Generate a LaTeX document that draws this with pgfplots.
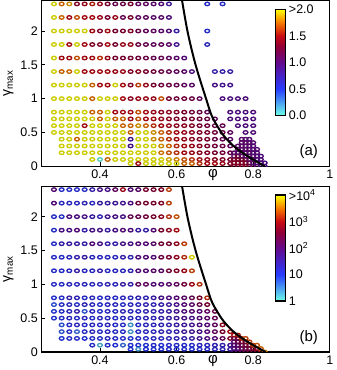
\documentclass[border=0pt]{standalone}
\usepackage{fontspec}
\setmainfont{Liberation Sans}
\usepackage{pgfplots}
\pgfplotsset{compat=1.18}

\pgfplotsset{
  colormap={fire}{rgb255(0cm)=(110,255,230); rgb255(25cm)=(40,60,255); rgb255(50cm)=(100,10,140);
    rgb255(65cm)=(145,0,55); rgb255(75cm)=(200,10,20); rgb255(87cm)=(245,115,0); rgb255(100cm)=(255,255,0)},
  panel/.style={
    scale only axis, width=289pt, height=166pt,
    xmin=0.247, xmax=1, ymin=0, ymax=2.45,
    xtick={0.4,0.6,0.8,1}, xticklabels={0.4,0.6,0.8,1},
    ytick={0,0.5,1,1.5,2}, yticklabels={0,0.5,1,1.5,2},
    tick pos=left, major tick length=4pt,
    tick style={black, line width=0.8pt},
    axis line style={line width=1.1pt},
    tick label style={font=\fontsize{12.5}{12.5}\selectfont},
    xlabel={φ},
    xlabel style={at={(axis description cs:0.595,0)}, anchor=north, font=\fontsize{15}{15}\selectfont},
    ylabel={γ\textsubscript{max}},
    ylabel style={font=\fontsize{14}{14}\selectfont},
    colormap name=fire,
    clip marker paths=true,
    colorbar,
  },
  cbar/.style={
    at={(parent axis.north west)}, anchor=north west, xshift=226pt, yshift=-9pt,
    scale only axis, width=10pt, height=106pt,
    major tick length=0pt,
    axis line style={line width=1.6pt},
    yticklabel style={font=\fontsize{12.5}{12.5}\selectfont},
  },
  dots/.style={scatter, only marks, mark=o, mark size=1.75pt, point meta=explicit,
    mark options={line width=1.35pt, xscale=1.35}},
}

\begin{document}
\begin{tikzpicture}
% ---------------- panel (a) ----------------
\begin{axis}[panel, point meta min=0, point meta max=2,
  colorbar style={cbar, ytick={0,0.5,1,1.5,2}, yticklabels={0.0,0.5,1.0,1.5,>2.0}}]
\addplot[dots] coordinates {
(0.28,2.4)[2] (0.30,2.4)[1.75] (0.32,2.4)[1.85] (0.34,2.4)[1.35] (0.36,2.4)[1.45] (0.38,2.4)[1.55]
(0.40,2.4)[1.45] (0.42,2.4)[1.3] (0.44,2.4)[1.15] (0.46,2.4)[1.2] (0.48,2.4)[1.3] (0.50,2.4)[1.1]
(0.52,2.4)[1.1] (0.54,2.4)[1.05] (0.56,2.4)[1.0] (0.58,2.4)[0.8] (0.68,2.4)[0.55] (0.72,2.4)[0.55]
(0.28,2.2)[2] (0.30,2.2)[1.75] (0.32,2.2)[1.5] (0.34,2.2)[1.7] (0.36,2.2)[1.5] (0.38,2.2)[1.5]
(0.40,2.2)[1.45] (0.42,2.2)[1.3] (0.44,2.2)[1.45] (0.46,2.2)[1.15] (0.48,2.2)[1.3] (0.50,2.2)[1.1]
(0.52,2.2)[1.1] (0.54,2.2)[1.05] (0.56,2.2)[1.05] (0.58,2.2)[0.95]
(0.28,2)[2] (0.30,2)[2] (0.32,2)[2] (0.34,2)[2] (0.36,2)[2] (0.38,2)[1.5] (0.40,2)[1.35] (0.42,2)[1.5]
(0.44,2)[1.3] (0.46,2)[1.3] (0.48,2)[1.35] (0.50,2)[1.2] (0.52,2)[1.1] (0.54,2)[1.1] (0.56,2)[1.05]
(0.58,2)[1.0] (0.60,2)[0.75] (0.68,2)[0.55]
(0.28,1.8)[2] (0.30,1.8)[2] (0.32,1.8)[1.5] (0.34,1.8)[2] (0.36,1.8)[1.5] (0.38,1.8)[1.35] (0.40,1.8)[1.35]
(0.42,1.8)[1.5] (0.44,1.8)[1.3] (0.46,1.8)[1.45] (0.48,1.8)[1.45] (0.50,1.8)[1.2] (0.52,1.8)[1.15]
(0.54,1.8)[1.1] (0.56,1.8)[1.1] (0.58,1.8)[1.05] (0.60,1.8)[0.85] (0.68,1.8)[0.6]
(0.28,1.6)[2] (0.30,1.6)[1.5] (0.32,1.6)[1.5] (0.34,1.6)[1.7] (0.36,1.6)[1.5] (0.38,1.6)[1.5] (0.40,1.6)[1.6]
(0.42,1.6)[1.45] (0.44,1.6)[1.3] (0.46,1.6)[1.3] (0.48,1.6)[1.3] (0.50,1.6)[1.25] (0.52,1.6)[1.2]
(0.54,1.6)[1.15] (0.56,1.6)[1.15] (0.58,1.6)[1.1] (0.60,1.6)[1.05] (0.62,1.6)[1.0]
(0.28,1.4)[2] (0.30,1.4)[1.75] (0.32,1.4)[1.75] (0.34,1.4)[2] (0.36,1.4)[1.5] (0.38,1.4)[1.5] (0.40,1.4)[1.5]
(0.42,1.4)[1.5] (0.44,1.4)[1.45] (0.46,1.4)[1.45] (0.48,1.4)[1.35] (0.50,1.4)[1.4] (0.52,1.4)[1.3]
(0.54,1.4)[1.25] (0.56,1.4)[1.2] (0.58,1.4)[1.15] (0.60,1.4)[1.1] (0.62,1.4)[1.05] (0.64,1.4)[0.95]
(0.70,1.4)[0.7] (0.72,1.4)[0.7] (0.74,1.4)[0.75]
(0.28,1.2)[2] (0.30,1.2)[2] (0.32,1.2)[2] (0.34,1.2)[2] (0.36,1.2)[2] (0.38,1.2)[1.75] (0.40,1.2)[1.5]
(0.42,1.2)[1.5] (0.44,1.2)[2] (0.46,1.2)[1.5] (0.48,1.2)[1.35] (0.50,1.2)[1.65] (0.52,1.2)[1.45]
(0.54,1.2)[1.3] (0.56,1.2)[1.25] (0.58,1.2)[1.2] (0.60,1.2)[1.15] (0.62,1.2)[1.1] (0.64,1.2)[1.05]
(0.70,1.2)[0.9] (0.72,1.2)[0.85] (0.74,1.2)[0.85]
(0.28,1)[2] (0.30,1)[2] (0.32,1)[2] (0.34,1)[2] (0.36,1)[2] (0.38,1)[1.75] (0.40,1)[2] (0.42,1)[2]
(0.44,1)[2] (0.46,1)[1.5] (0.48,1)[1.4] (0.50,1)[1.45] (0.52,1)[1.45] (0.54,1)[1.45] (0.56,1)[1.7]
(0.58,1)[1.3] (0.60,1)[1.25] (0.62,1)[1.25] (0.64,1)[1.2] (0.66,1)[1.1]
(0.72,1)[0.95] (0.74,1)[0.95] (0.76,1)[0.95] (0.78,1)[0.95]
(0.28,0.8)[2] (0.30,0.8)[2] (0.32,0.8)[2] (0.34,0.8)[2] (0.36,0.8)[2] (0.38,0.8)[1.75] (0.40,0.8)[1.75]
(0.42,0.8)[2] (0.44,0.8)[1.5] (0.46,0.8)[1.5] (0.48,0.8)[1.5] (0.50,0.8)[1.7] (0.52,0.8)[1.5]
(0.54,0.8)[1.45] (0.56,0.8)[1.4] (0.58,0.8)[1.4] (0.60,0.8)[1.35] (0.62,0.8)[1.3] (0.64,0.8)[1.25]
(0.66,0.8)[1.2] (0.68,0.8)[1.1] (0.74,0.8)[0.95] (0.76,0.8)[0.95] (0.78,0.8)[0.95] (0.80,0.8)[0.95]
(0.28,0.7)[2] (0.30,0.7)[2] (0.32,0.7)[2] (0.34,0.7)[2] (0.36,0.7)[2] (0.38,0.7)[2] (0.40,0.7)[1.75]
(0.42,0.7)[2] (0.44,0.7)[1.75] (0.46,0.7)[1.75] (0.48,0.7)[1.5] (0.50,0.7)[1.7] (0.52,0.7)[1.5]
(0.54,0.7)[1.5] (0.56,0.7)[1.45] (0.58,0.7)[1.4] (0.60,0.7)[1.35] (0.62,0.7)[1.3] (0.64,0.7)[1.3]
(0.66,0.7)[1.25] (0.68,0.7)[1.2] (0.70,0.7)[1.1] (0.74,0.7)[0.95] (0.76,0.7)[0.95] (0.78,0.7)[0.95] (0.80,0.7)[0.95]
(0.28,0.6)[2] (0.30,0.6)[2] (0.32,0.6)[2] (0.34,0.6)[2] (0.36,0.6)[1.5] (0.38,0.6)[2] (0.40,0.6)[2]
(0.42,0.6)[2] (0.44,0.6)[2] (0.46,0.6)[1.75] (0.48,0.6)[1.75] (0.50,0.6)[1.85] (0.52,0.6)[1.75]
(0.54,0.6)[1.6] (0.56,0.6)[1.5] (0.58,0.6)[1.45] (0.60,0.6)[1.4] (0.62,0.6)[1.4] (0.64,0.6)[1.35]
(0.66,0.6)[1.3] (0.68,0.6)[1.25] (0.70,0.6)[1.2] (0.72,0.6)[1.15] (0.76,0.6)[0.95] (0.78,0.6)[0.95] (0.80,0.6)[0.95]
(0.28,0.5)[2] (0.30,0.5)[2] (0.32,0.5)[2] (0.34,0.5)[2] (0.36,0.5)[2] (0.38,0.5)[2] (0.40,0.5)[2]
(0.42,0.5)[2] (0.44,0.5)[2] (0.46,0.5)[2] (0.48,0.5)[1.75] (0.50,0.5)[2] (0.52,0.5)[2] (0.54,0.5)[1.85]
(0.56,0.5)[1.75] (0.58,0.5)[1.6] (0.60,0.5)[1.5] (0.62,0.5)[1.45] (0.64,0.5)[1.4] (0.66,0.5)[1.35]
(0.68,0.5)[1.3] (0.70,0.5)[1.25] (0.72,0.5)[1.2] (0.74,0.5)[1.1] (0.78,0.5)[1.0] (0.80,0.5)[1.0]
(0.30,0.4)[2] (0.32,0.4)[2] (0.34,0.4)[1.75] (0.36,0.4)[2] (0.38,0.4)[2] (0.40,0.4)[2] (0.42,0.4)[2]
(0.44,0.4)[2] (0.46,0.4)[2] (0.48,0.4)[0.85] (0.50,0.4)[2] (0.52,0.4)[2] (0.54,0.4)[1.85] (0.56,0.4)[1.75]
(0.58,0.4)[1.6] (0.60,0.4)[1.5] (0.62,0.4)[1.45] (0.64,0.4)[1.4] (0.66,0.4)[1.35] (0.68,0.4)[1.3]
(0.70,0.4)[1.2] (0.72,0.4)[1.15] (0.74,0.4)[1.05]
(0.30,0.3)[2] (0.32,0.3)[2] (0.34,0.3)[2] (0.36,0.3)[2] (0.38,0.3)[2] (0.40,0.3)[2] (0.42,0.3)[2]
(0.44,0.3)[2] (0.46,0.3)[2] (0.48,0.3)[0.9] (0.50,0.3)[2] (0.52,0.3)[2] (0.54,0.3)[2] (0.56,0.3)[1.85]
(0.58,0.3)[1.75] (0.60,0.3)[1.6] (0.62,0.3)[1.5] (0.64,0.3)[1.45] (0.66,0.3)[1.4] (0.68,0.3)[1.3]
(0.70,0.3)[1.25] (0.72,0.3)[1.2] (0.74,0.3)[1.1]
(0.30,0.2)[2] (0.32,0.2)[2] (0.34,0.2)[2] (0.36,0.2)[2] (0.38,0.2)[2] (0.40,0.2)[2] (0.42,0.2)[2]
(0.44,0.2)[2] (0.46,0.2)[2] (0.48,0.2)[2] (0.50,0.2)[2] (0.52,0.2)[2] (0.54,0.2)[2] (0.56,0.2)[1.8]
(0.58,0.2)[1.7] (0.60,0.2)[1.6] (0.62,0.2)[1.5] (0.64,0.2)[1.45] (0.66,0.2)[1.4] (0.68,0.2)[1.35]
(0.70,0.2)[1.3] (0.72,0.2)[1.25] (0.74,0.2)[1.2] (0.76,0.2)[1.1]
(0.38,0.1)[2] (0.40,0.1)[0] (0.42,0.1)[1.75] (0.44,0.1)[2] (0.46,0.1)[2] (0.48,0.1)[2] (0.50,0.1)[2]
(0.52,0.1)[2] (0.54,0.1)[2] (0.56,0.1)[2] (0.58,0.1)[1.9] (0.60,0.1)[1.8] (0.62,0.1)[1.7] (0.64,0.1)[1.6]
(0.66,0.1)[1.5] (0.68,0.1)[1.45] (0.70,0.1)[1.4] (0.72,0.1)[1.35] (0.74,0.1)[1.3] (0.76,0.1)[1.2]
(0.48,0.04)[2] (0.50,0.04)[1.5] (0.52,0.04)[2] (0.54,0.04)[2] (0.56,0.04)[2] (0.58,0.04)[2] (0.60,0.04)[2]
(0.62,0.04)[1.75] (0.64,0.04)[1.75] (0.66,0.04)[1.6] (0.68,0.04)[1.5] (0.70,0.04)[1.5] (0.72,0.04)[1.45]
(0.74,0.04)[1.35]
% dense cluster near the jamming point
(0.75,0)[1.35] (0.75,0.05)[1.35] (0.75,0.1)[1.35] (0.75,0.15)[1.1] (0.75,0.2)[1.05]
(0.76,0)[1.35] (0.76,0.05)[1.35] (0.76,0.1)[1.35] (0.76,0.15)[1.3] (0.76,0.2)[1.05] (0.76,0.25)[1.05] (0.76,0.3)[1.05]
(0.77,0)[1.35] (0.77,0.05)[1.35] (0.77,0.1)[1.3] (0.77,0.15)[1.1] (0.77,0.2)[1.05] (0.77,0.25)[1.05]
(0.77,0.3)[1.05] (0.77,0.35)[1.05] (0.77,0.4)[1.05]
(0.78,0)[1.35] (0.78,0.05)[1.35] (0.78,0.1)[1.3] (0.78,0.15)[1.05] (0.78,0.2)[1.05] (0.78,0.25)[1.05]
(0.78,0.3)[1.05] (0.78,0.35)[1.05] (0.78,0.4)[1.05]
(0.79,0)[1.3] (0.79,0.05)[1.2] (0.79,0.1)[1.1] (0.79,0.15)[1.05] (0.79,0.2)[1.05] (0.79,0.25)[1.05]
(0.79,0.3)[1.05] (0.79,0.35)[1.05] (0.79,0.4)[1.0]
(0.80,0)[1.05] (0.80,0.05)[1.05] (0.80,0.1)[1.05] (0.80,0.15)[1.05] (0.80,0.2)[1.0] (0.80,0.25)[1.0]
(0.80,0.3)[1.0] (0.80,0.35)[1.0]
(0.81,0)[1.0] (0.81,0.05)[1.0] (0.81,0.1)[1.0] (0.81,0.15)[1.0] (0.81,0.2)[1.0] (0.81,0.25)[1.0]
(0.82,0)[0.95] (0.82,0.05)[0.95] (0.82,0.1)[0.95] (0.82,0.15)[0.95]
(0.83,0)[0.95] (0.83,0.05)[0.95]
};
\addplot[black, line width=2pt, smooth] coordinates {
(0.614,2.46) (0.629,1.98) (0.650,1.49) (0.678,0.98) (0.693,0.73) (0.718,0.49)
(0.741,0.34) (0.762,0.24) (0.788,0.14) (0.830,0)};
\node[font=\fontsize{15}{15}\selectfont] at (rel axis cs:0.927,0.087) {(a)};
\end{axis}

% ---------------- panel (b) ----------------
\begin{axis}[panel, at={(0,-186pt)}, point meta min=0, point meta max=4,
  colorbar style={cbar, ytick={0,1,2,3,4},
    yticklabels={1,10,10\textsuperscript{2},10\textsuperscript{3},>10\textsuperscript{4}}}]
\addplot[dots] coordinates {
(0.28,2.4)[2.0] (0.30,2.4)[1.1] (0.32,2.4)[1.1] (0.34,2.4)[1.1] (0.36,2.4)[1.1] (0.38,2.4)[1.4]
(0.40,2.4)[1.8] (0.42,2.4)[1.8] (0.44,2.4)[2.2] (0.46,2.4)[2.9] (0.48,2.4)[2.0] (0.50,2.4)[2.1]
(0.52,2.4)[2.6] (0.54,2.4)[2.6] (0.56,2.4)[2.7] (0.58,2.4)[3.3]
(0.28,2.2)[2.0] (0.30,2.2)[1.2] (0.32,2.2)[1.2] (0.34,2.2)[1.2] (0.36,2.2)[1.3] (0.38,2.2)[1.2]
(0.40,2.2)[1.5] (0.42,2.2)[1.5] (0.44,2.2)[1.6] (0.46,2.2)[1.7] (0.48,2.2)[1.9] (0.50,2.2)[2.5]
(0.52,2.2)[2.6] (0.54,2.2)[2.6] (0.56,2.2)[2.7] (0.58,2.2)[3.3]
(0.28,2)[1.1] (0.30,2)[1.1] (0.32,2)[1.9] (0.34,2)[1.9] (0.36,2)[1.8] (0.38,2)[1.5] (0.40,2)[1.3]
(0.42,2)[1.7] (0.44,2)[1.8] (0.46,2)[1.8] (0.48,2)[2.3] (0.50,2)[2.3] (0.52,2)[2.5] (0.54,2)[2.6]
(0.56,2)[2.8] (0.58,2)[3.2] (0.60,2)[3.4]
(0.28,1.8)[1.1] (0.30,1.8)[1.8] (0.32,1.8)[1.8] (0.34,1.8)[2.0] (0.36,1.8)[1.4] (0.38,1.8)[1.8]
(0.40,1.8)[1.8] (0.42,1.8)[1.5] (0.44,1.8)[1.8] (0.46,1.8)[2.0] (0.48,1.8)[1.9] (0.50,1.8)[1.5]
(0.52,1.8)[1.4] (0.54,1.8)[2.0] (0.56,1.8)[2.6] (0.58,1.8)[2.8] (0.60,1.8)[3.0]
(0.28,1.6)[1.1] (0.30,1.6)[1.4] (0.32,1.6)[1.5] (0.34,1.6)[1.5] (0.36,1.6)[1.4] (0.38,1.6)[2.0]
(0.40,1.6)[1.8] (0.42,1.6)[1.4] (0.44,1.6)[1.4] (0.46,1.6)[1.8] (0.48,1.6)[1.8] (0.50,1.6)[2.0]
(0.52,1.6)[2.0] (0.54,1.6)[2.1] (0.56,1.6)[2.5] (0.58,1.6)[2.6] (0.60,1.6)[2.8] (0.62,1.6)[3.3]
(0.28,1.4)[1.1] (0.30,1.4)[1.1] (0.32,1.4)[1.2] (0.34,1.4)[1.4] (0.36,1.4)[1.5] (0.38,1.4)[1.2]
(0.40,1.4)[1.2] (0.42,1.4)[1.2] (0.44,1.4)[1.2] (0.46,1.4)[1.4] (0.48,1.4)[1.3] (0.50,1.4)[1.9]
(0.52,1.4)[2.0] (0.54,1.4)[2.0] (0.56,1.4)[2.4] (0.58,1.4)[2.6] (0.60,1.4)[2.8] (0.62,1.4)[3.2] (0.64,1.4)[4.0]
(0.28,1.2)[1.1] (0.30,1.2)[1.1] (0.32,1.2)[1.2] (0.34,1.2)[1.5] (0.36,1.2)[1.2] (0.38,1.2)[1.2]
(0.40,1.2)[1.4] (0.42,1.2)[1.2] (0.44,1.2)[1.2] (0.46,1.2)[1.2] (0.48,1.2)[1.3] (0.50,1.2)[1.9]
(0.52,1.2)[2.0] (0.54,1.2)[2.1] (0.56,1.2)[2.1] (0.58,1.2)[2.5] (0.60,1.2)[2.7] (0.62,1.2)[2.9] (0.64,1.2)[3.3]
(0.28,1)[1.1] (0.30,1)[1.1] (0.32,1)[1.2] (0.34,1)[1.2] (0.36,1)[1.2] (0.38,1)[1.2] (0.40,1)[1.2]
(0.42,1)[1.3] (0.44,1)[1.2] (0.46,1)[1.5] (0.48,1)[1.4] (0.50,1)[2.2] (0.52,1)[2.2] (0.54,1)[2.0]
(0.56,1)[2.0] (0.58,1)[2.1] (0.60,1)[2.2] (0.62,1)[2.5] (0.64,1)[2.9] (0.66,1)[3.2]
(0.28,0.8)[1.0] (0.30,0.8)[1.1] (0.32,0.8)[1.4] (0.34,0.8)[1.3] (0.36,0.8)[1.1] (0.38,0.8)[1.2]
(0.40,0.8)[1.1] (0.42,0.8)[1.2] (0.44,0.8)[1.1] (0.46,0.8)[1.2] (0.48,0.8)[1.2] (0.50,0.8)[1.3]
(0.52,0.8)[1.3] (0.54,0.8)[1.5] (0.56,0.8)[1.8] (0.58,0.8)[1.9] (0.60,0.8)[2.0] (0.62,0.8)[2.1]
(0.64,0.8)[2.3] (0.66,0.8)[2.6] (0.68,0.8)[3.2]
(0.28,0.7)[0.8] (0.30,0.7)[1.1] (0.32,0.7)[1.2] (0.34,0.7)[1.1] (0.36,0.7)[1.3] (0.38,0.7)[1.2]
(0.40,0.7)[1.1] (0.42,0.7)[1.2] (0.44,0.7)[1.2] (0.46,0.7)[1.1] (0.48,0.7)[1.2] (0.50,0.7)[1.2]
(0.52,0.7)[1.3] (0.54,0.7)[1.3] (0.56,0.7)[1.4] (0.58,0.7)[1.6] (0.60,0.7)[1.8] (0.62,0.7)[2.0]
(0.64,0.7)[2.1] (0.66,0.7)[2.4] (0.68,0.7)[2.6]
(0.28,0.6)[1.0] (0.30,0.6)[1.1] (0.32,0.6)[1.2] (0.34,0.6)[1.4] (0.36,0.6)[0.8] (0.38,0.6)[1.2]
(0.40,0.6)[1.1] (0.42,0.6)[1.2] (0.44,0.6)[1.1] (0.46,0.6)[1.3] (0.48,0.6)[1.2] (0.50,0.6)[1.2]
(0.52,0.6)[1.3] (0.54,0.6)[1.3] (0.56,0.6)[1.4] (0.58,0.6)[1.5] (0.60,0.6)[1.7] (0.62,0.6)[1.9]
(0.64,0.6)[2.0] (0.66,0.6)[2.0] (0.68,0.6)[2.2] (0.70,0.6)[2.4]
(0.28,0.5)[1.0] (0.30,0.5)[1.1] (0.32,0.5)[1.2] (0.34,0.5)[1.1] (0.36,0.5)[1.2] (0.38,0.5)[1.1]
(0.40,0.5)[1.2] (0.42,0.5)[1.2] (0.44,0.5)[1.1] (0.46,0.5)[1.2] (0.48,0.5)[1.2] (0.50,0.5)[1.2]
(0.52,0.5)[1.3] (0.54,0.5)[1.3] (0.56,0.5)[1.4] (0.58,0.5)[1.5] (0.60,0.5)[1.6] (0.62,0.5)[1.8]
(0.64,0.5)[1.8] (0.66,0.5)[2.0] (0.68,0.5)[2.1] (0.70,0.5)[2.3]
(0.30,0.4)[0.8] (0.32,0.4)[1.1] (0.34,0.4)[1.2] (0.36,0.4)[1.1] (0.38,0.4)[1.2] (0.40,0.4)[1.1]
(0.42,0.4)[1.2] (0.44,0.4)[1.1] (0.46,0.4)[1.1] (0.48,0.4)[0.4] (0.50,0.4)[1.1] (0.52,0.4)[1.2]
(0.54,0.4)[1.2] (0.56,0.4)[1.3] (0.58,0.4)[1.4] (0.60,0.4)[1.5] (0.62,0.4)[1.6] (0.64,0.4)[1.7]
(0.66,0.4)[1.9] (0.68,0.4)[2.0] (0.70,0.4)[2.2] (0.72,0.4)[2.8]
(0.30,0.3)[0.8] (0.32,0.3)[1.1] (0.34,0.3)[0.7] (0.36,0.3)[1.1] (0.38,0.3)[1.2] (0.40,0.3)[1.1]
(0.42,0.3)[1.2] (0.44,0.3)[1.1] (0.46,0.3)[1.1] (0.48,0.3)[0.4] (0.50,0.3)[1.1] (0.52,0.3)[1.2]
(0.54,0.3)[1.2] (0.56,0.3)[1.3] (0.58,0.3)[1.3] (0.60,0.3)[1.4] (0.62,0.3)[1.6] (0.64,0.3)[1.7]
(0.66,0.3)[1.8] (0.68,0.3)[2.0] (0.70,0.3)[2.2] (0.72,0.3)[2.6] (0.74,0.3)[3.0]
(0.30,0.2)[1.0] (0.32,0.2)[1.1] (0.34,0.2)[1.1] (0.36,0.2)[1.0] (0.38,0.2)[1.1] (0.40,0.2)[1.1]
(0.42,0.2)[1.2] (0.44,0.2)[1.1] (0.46,0.2)[1.1] (0.48,0.2)[1.0] (0.50,0.2)[1.1] (0.52,0.2)[1.1]
(0.54,0.2)[1.2] (0.56,0.2)[1.2] (0.58,0.2)[1.3] (0.60,0.2)[1.3] (0.62,0.2)[1.4] (0.64,0.2)[1.5]
(0.66,0.2)[1.7] (0.68,0.2)[1.9] (0.70,0.2)[2.0] (0.72,0.2)[2.3] (0.74,0.2)[2.7] (0.76,0.2)[3.2]
(0.38,0.1)[1.1] (0.40,0.1)[0.3] (0.42,0.1)[1.1] (0.44,0.1)[1.0] (0.46,0.1)[0.7] (0.48,0.1)[1.0]
(0.50,0.1)[1.0] (0.52,0.1)[1.0] (0.54,0.1)[1.1] (0.56,0.1)[1.0] (0.58,0.1)[1.1] (0.60,0.1)[1.1]
(0.62,0.1)[1.1] (0.64,0.1)[1.1] (0.66,0.1)[1.2] (0.68,0.1)[1.2] (0.70,0.1)[1.3] (0.72,0.1)[1.4]
(0.74,0.1)[1.6] (0.76,0.1)[2.0]
(0.48,0.04)[1.0] (0.50,0.04)[0.4] (0.52,0.04)[1.0] (0.54,0.04)[1.0] (0.56,0.04)[1.0] (0.58,0.04)[1.1]
(0.60,0.04)[1.0] (0.62,0.04)[1.1] (0.64,0.04)[1.0] (0.66,0.04)[1.1] (0.68,0.04)[1.1] (0.70,0.04)[1.2]
(0.72,0.04)[1.3] (0.74,0.04)[1.5]
% dense cluster near the jamming point
(0.75,0)[1.9] (0.75,0.05)[1.9] (0.75,0.1)[2.0] (0.75,0.15)[2.1] (0.75,0.2)[2.3] (0.75,0.25)[3.0]
(0.76,0)[2.0] (0.76,0.05)[2.0] (0.76,0.1)[2.1] (0.76,0.15)[2.3] (0.76,0.2)[2.4] (0.76,0.25)[3.1]
(0.77,0)[2.2] (0.77,0.05)[2.2] (0.77,0.1)[2.4] (0.77,0.15)[2.5] (0.77,0.2)[3.2]
(0.78,0)[2.3] (0.78,0.05)[2.4] (0.78,0.1)[2.5] (0.78,0.15)[2.6] (0.78,0.2)[3.3]
(0.79,0)[2.4] (0.79,0.05)[2.5] (0.79,0.1)[2.6] (0.79,0.15)[3.3]
(0.80,0)[2.5] (0.80,0.05)[2.6] (0.80,0.1)[3.3]
(0.81,0)[2.6] (0.81,0.05)[2.8] (0.81,0.1)[3.4]
(0.82,0)[2.8] (0.82,0.05)[3.5]
(0.83,0)[3.6]
};
\addplot[black, line width=2pt, smooth] coordinates {
(0.614,2.46) (0.629,1.98) (0.650,1.49) (0.678,0.98) (0.693,0.73) (0.718,0.49)
(0.741,0.34) (0.762,0.24) (0.788,0.14) (0.832,0)};
\node[font=\fontsize{15}{15}\selectfont] at (rel axis cs:0.927,0.087) {(b)};
\end{axis}
\end{tikzpicture}
\end{document}
